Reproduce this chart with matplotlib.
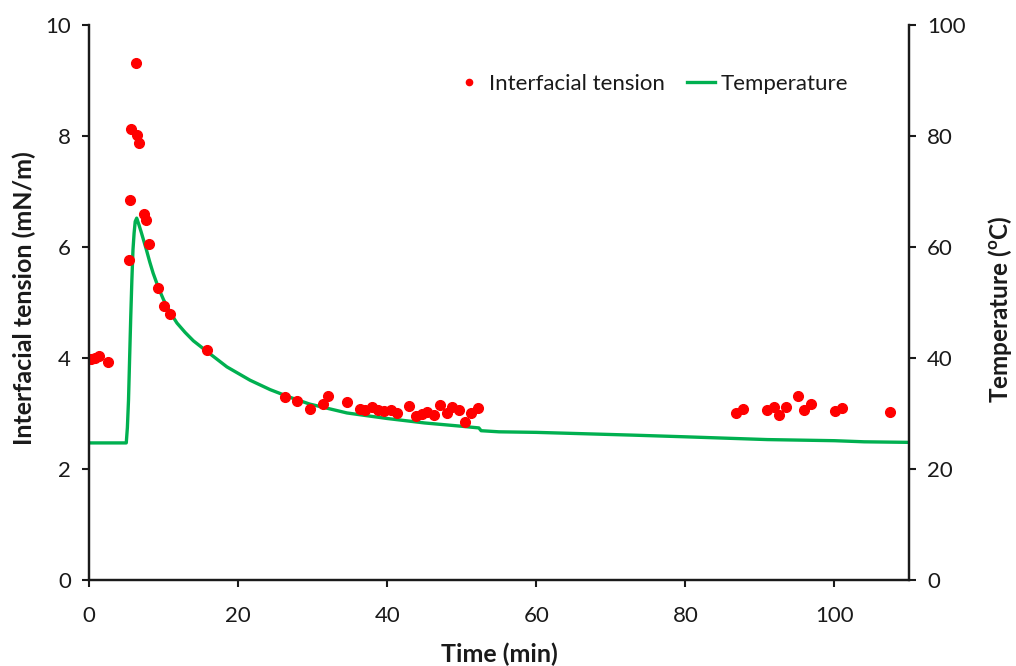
import matplotlib
matplotlib.use("Agg")
import matplotlib.pyplot as plt
from matplotlib.lines import Line2D

# Interfacial tension measurements (min, mN/m)
ift_time = [0.3, 0.8, 1.3, 2.5, 5.3, 5.5, 5.6, 6.3, 6.5, 6.7, 7.4, 7.7, 8.05,
            9.2, 10.0, 10.8, 15.8,
            26.3, 27.95, 29.6, 31.35, 32.1, 34.65, 36.3, 37.0, 38.0, 38.8, 39.6,
            40.5, 41.3, 42.9, 43.8, 44.7, 45.4, 46.3, 47.1, 48.0, 48.7, 49.6,
            50.4, 51.2, 52.2,
            86.75, 87.7, 91.0, 91.9, 92.6, 93.5, 95.15, 95.9, 96.8, 100.1, 101.0,
            107.5]
ift_value = [3.99, 4.00, 4.03, 3.92, 5.77, 6.85, 8.12, 9.31, 8.02, 7.88, 6.59,
             6.49, 6.05, 5.27, 4.94, 4.79, 4.14,
             3.30, 3.23, 3.09, 3.18, 3.32, 3.21, 3.09, 3.07, 3.12, 3.07, 3.05,
             3.06, 3.01, 3.14, 2.95, 3.00, 3.02, 2.97, 3.16, 3.01, 3.12, 3.07,
             2.85, 3.01, 3.10,
             3.01, 3.09, 3.07, 3.12, 2.97, 3.12, 3.32, 3.07, 3.18, 3.04, 3.10,
             3.03]

# Temperature record (min, degC)
temp_time = [0, 5.0, 5.15, 5.3, 5.45, 5.6, 5.75, 5.9, 6.05, 6.2, 6.4, 6.7,
             7.0, 7.35, 7.7, 8.15, 8.6, 9.3, 10.0, 10.9, 11.8, 12.9, 14.0,
             15.8, 18.5, 21.6, 24.3, 27.0, 29.6, 34.6, 40.0, 45.0, 50.0, 52.3,
             52.6, 55.0, 60.0, 73.0, 80.0, 91.0, 100.0, 104.0, 110.0]
temp_value = [24.7, 24.7, 27.5, 32.4, 40.0, 47.4, 54.0, 59.5, 62.5, 64.6,
              65.2, 64.0, 62.7, 61.1, 59.5, 57.3, 55.3, 52.7, 50.5, 48.2, 46.3,
              44.6, 43.1, 41.2, 38.4, 36.0, 34.3, 32.9, 31.7, 30.1, 29.1, 28.3,
              27.7, 27.4, 26.9, 26.7, 26.6, 26.1, 25.8, 25.3, 25.1, 24.9, 24.8]

x_ticks = [0, 20, 40, 60, 80, 100]
left_ticks = [0, 2, 4, 6, 8, 10]
right_ticks = [0, 20, 40, 60, 80, 100]

RED = "#FF0000"
GREEN = "#00B050"
AXIS = "#1a1a1a"

plt.rcParams["mathtext.fontset"] = "custom"
plt.rcParams["mathtext.rm"] = "Lato"
plt.rcParams["mathtext.bf"] = "Lato:bold"

FONT = ["Lato", "DejaVu Sans"]

fig = plt.figure(figsize=(10.16, 6.66), dpi=100)
ax1 = fig.add_axes([89 / 1016, 1 - 580 / 666, 820 / 1016, 555 / 666])
ax2 = ax1.twinx()

# scatter on top of the temperature line
ax1.set_zorder(ax2.get_zorder() + 1)
ax1.patch.set_visible(False)

ax2.plot(temp_time, temp_value, color=GREEN, lw=2.4, solid_joinstyle="round")
ax1.plot(ift_time, ift_value, linestyle="none", marker="o", ms=7,
         color=RED, mec=RED)

ax1.set_xlim(0, 110)
ax1.set_ylim(0, 10)
ax2.set_ylim(0, 100)
ax1.set_xticks(x_ticks)
ax1.set_yticks(left_ticks)
ax2.set_yticks(right_ticks)

for ax in (ax1, ax2):
    ax.spines["top"].set_visible(False)
    for s in ("left", "right", "bottom"):
        ax.spines[s].set_linewidth(1.6)
        ax.spines[s].set_color(AXIS)
    ax.tick_params(direction="out", length=5, width=1.5, color=AXIS,
                   labelcolor=AXIS)

ax1.set_yticklabels([str(v) for v in left_ticks], family=FONT, size=16)
ax2.set_yticklabels([str(v) for v in right_ticks], family=FONT, size=16)
ax1.set_xticklabels([str(v) for v in x_ticks], family=FONT, size=16)
ax1.tick_params(axis="x", pad=14)
ax1.tick_params(axis="y", pad=8)
ax2.tick_params(axis="y", pad=8)

ax1.set_xlabel("Time (min)", family=FONT, size=18, weight="bold", color=AXIS)
ax1.set_ylabel("Interfacial tension (mN/m)", family=FONT, size=18,
               weight="bold", color=AXIS)
ax2.set_ylabel(r"Temperature ($\mathbf{^{o}}$C)", family=FONT, size=17.5,
               weight="bold", color=AXIS)
ax1.xaxis.set_label_coords(0.5, -0.112)
ax1.yaxis.set_label_coords(-0.064, 0.508)
ax2.yaxis.set_label_coords(1.094, 0.488)

handles = [
    Line2D([], [], linestyle="none", marker="o", ms=4.5, color=RED),
    Line2D([], [], color=GREEN, lw=2.4),
]
ax1.legend(handles, ["Interfacial tension", "Temperature"], ncol=2,
           loc="center", bbox_to_anchor=(0.686, 0.894), frameon=False,
           prop={"family": FONT, "size": 16},
           handlelength=1.25, handletextpad=0.25, columnspacing=1.0,
           labelcolor=AXIS)

fig.savefig("out.png", dpi=100, facecolor="white")
